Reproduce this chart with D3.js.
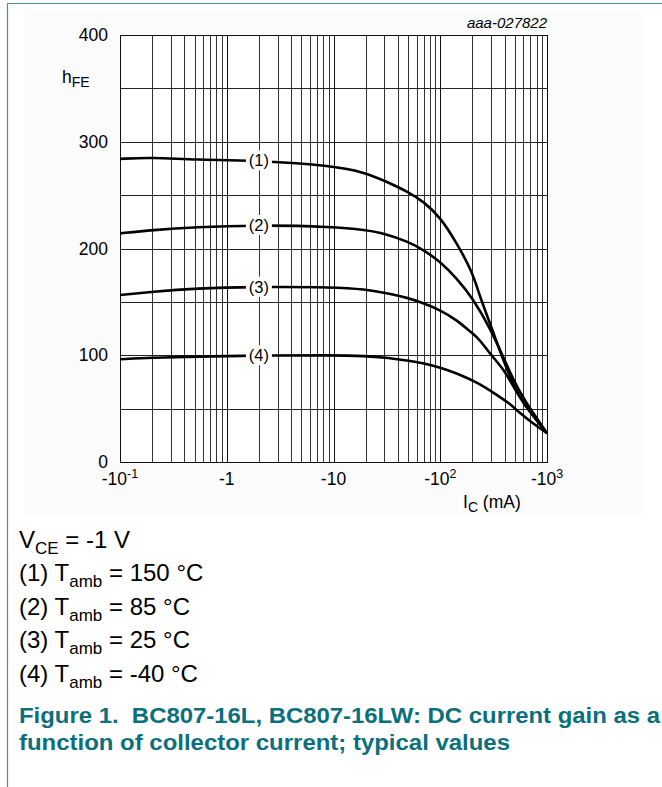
<!DOCTYPE html>
<html>
<head>
<meta charset="utf-8">
<script src="https://cdn.jsdelivr.net/npm/d3@7"></script>
<style>
  body { margin: 0; background: #fff; }
  text { font-family: Arial, "Liberation Sans", Helvetica, sans-serif; }
</style>
</head>
<body>
<script>
// collector current magnitude (mA) and hFE, one array pair per curve
var ic150 = [0.1, 0.2, 0.5, 2, 10, 20, 30, 50, 70, 100, 143, 200, 233, 300, 400, 500, 600, 800, 1000];
var hfe150 = [284, 285.4, 283, 282.5, 277.5, 271, 263.5, 253.2, 243.8, 229.5, 205, 178, 156, 127, 92, 69, 55, 39, 27];

var ic85 = [0.1, 0.2, 0.5, 2, 10, 20, 30, 50, 70, 100, 143, 200, 300, 400, 500, 600, 800, 1000];
var hfe85 = [214.2, 217.3, 220, 222, 220.4, 217.3, 214.2, 206.4, 198.6, 187.6, 172, 154, 123.6, 95.5, 74, 60, 41, 27];

var ic25 = [0.1, 0.2, 0.5, 2, 10, 20, 30, 50, 70, 100, 143, 200, 233, 300, 400, 500, 600, 800, 1000];
var hfe25 = [156.4, 159.5, 162.7, 164.2, 163.8, 161.8, 158.6, 153.8, 148.7, 142.4, 133, 120.5, 114.9, 100, 86, 68, 55.5, 39, 27];

var icm40 = [0.1, 0.2, 0.5, 2, 10, 20, 30, 50, 70, 100, 143, 233, 338, 445, 560, 735, 1000];
var hfem40 = [96.2, 97.7, 98.7, 99.9, 100, 99.3, 98, 94.9, 92.5, 88.7, 83.1, 73.7, 62.8, 55, 45.6, 36.3, 27];

var curveTags = ["(1)", "(2)", "(3)", "(4)"];
var tagCurrent = 2;

var xDecades = [0.1, 1, 10, 100, 1000];
var xTickBase = ["-10", "-1", "-10", "-10", "-10"];
var xTickExp = ["-1", "", "", "2", "3"];
var yTicks = [0, 100, 200, 300, 400];
var yGrid = [50, 100, 150, 200, 250, 300, 350];

var conditionLines = [
  ["V", "CE", " = -1 V"],
  ["(1) T", "amb", " = 150 °C"],
  ["(2) T", "amb", " = 85 °C"],
  ["(3) T", "amb", " = 25 °C"],
  ["(4) T", "amb", " = -40 °C"]
];
var captionLines = [
  "Figure 1.  BC807-16L, BC807-16LW: DC current gain as a",
  "function of collector current; typical values"
];
var captionWidths = [641, 491];

var W = 662, H = 787;
var plot = {left: 120, right: 547, top: 35, bottom: 462};

var svg = d3.select("body").append("svg")
  .attr("width", W)
  .attr("height", H);

// page frame
svg.append("rect")
  .attr("x", 25).attr("y", 13)
  .attr("width", 618).attr("height", 501)
  .attr("fill", "#fbfbfb");
svg.append("path")
  .attr("d", "M7.5," + H + "V3.5H" + W)
  .attr("fill", "none")
  .attr("stroke", "#4d8f98")
  .attr("stroke-width", 1.2);

var x = d3.scaleLog().domain([0.1, 1000]).range([plot.left, plot.right]);
var y = d3.scaleLinear().domain([0, 400]).range([plot.bottom, plot.top]);

svg.append("rect")
  .attr("x", plot.left).attr("y", plot.top)
  .attr("width", plot.right - plot.left).attr("height", plot.bottom - plot.top)
  .attr("fill", "#fff");

var gridG = svg.append("g").attr("shape-rendering", "crispEdges");

// vertical log grid: 2..9 in each decade
var minor = [];
for (var d = 0; d < 4; d++) {
  for (var m = 2; m <= 9; m++) minor.push(xDecades[d] * m);
}
gridG.selectAll("line.minor").data(minor).enter().append("line")
  .attr("class", "minor")
  .attr("x1", function (v) { return Math.round(x(v)) + 0.5; })
  .attr("x2", function (v) { return Math.round(x(v)) + 0.5; })
  .attr("y1", plot.top).attr("y2", plot.bottom)
  .attr("stroke", "#333").attr("stroke-width", 1);

gridG.selectAll("line.major").data(xDecades.slice(1, 4)).enter().append("line")
  .attr("class", "major")
  .attr("x1", function (v) { return Math.round(x(v)) + 0.5; })
  .attr("x2", function (v) { return Math.round(x(v)) + 0.5; })
  .attr("y1", plot.top).attr("y2", plot.bottom)
  .attr("stroke", "#111").attr("stroke-width", 1);

gridG.selectAll("line.h").data(yGrid).enter().append("line")
  .attr("class", "h")
  .attr("x1", plot.left).attr("x2", plot.right)
  .attr("y1", function (v) { return Math.round(y(v)) + 0.5; })
  .attr("y2", function (v) { return Math.round(y(v)) + 0.5; })
  .attr("stroke", "#222").attr("stroke-width", 1);

gridG.append("rect")
  .attr("x", plot.left + 0.5).attr("y", plot.top + 0.5)
  .attr("width", plot.right - plot.left).attr("height", plot.bottom - plot.top)
  .attr("fill", "none")
  .attr("stroke", "#111").attr("stroke-width", 1);

// curves
var series = [
  {ic: ic150, hfe: hfe150},
  {ic: ic85, hfe: hfe85},
  {ic: ic25, hfe: hfe25},
  {ic: icm40, hfe: hfem40}
];

var line = d3.line()
  .x(function (p) { return x(p[0]); })
  .y(function (p) { return y(p[1]); })
  .curve(d3.curveBasis);

var clipId = "plot-clip";
svg.append("defs").append("clipPath").attr("id", clipId)
  .append("rect")
  .attr("x", plot.left).attr("y", plot.top)
  .attr("width", plot.right - plot.left).attr("height", plot.bottom - plot.top);

var curveG = svg.append("g").attr("clip-path", "url(#" + clipId + ")");
curveG.selectAll("path.curve").data(series).enter().append("path")
  .attr("class", "curve")
  .attr("d", function (s) { return line(d3.zip(s.ic, s.hfe)); })
  .attr("fill", "none")
  .attr("stroke", "#000")
  .attr("stroke-width", 2.6)
  .attr("stroke-linejoin", "round");

// curve tags with a white gap behind
function valueAt(s, v) {
  var i = d3.bisectLeft(s.ic, v);
  if (s.ic[i] === v) return s.hfe[i];
  var a = s.ic[i - 1], b = s.ic[i];
  var t = (Math.log(v) - Math.log(a)) / (Math.log(b) - Math.log(a));
  return s.hfe[i - 1] + t * (s.hfe[i] - s.hfe[i - 1]);
}

var tagG = svg.append("g");
series.forEach(function (s, i) {
  var cx = x(tagCurrent), cy = y(valueAt(s, tagCurrent));
  tagG.append("rect")
    .attr("x", cx - 13).attr("y", cy - 10)
    .attr("width", 26).attr("height", 20)
    .attr("fill", "#fff");
  tagG.append("text")
    .attr("x", cx).attr("y", cy + 6)
    .attr("text-anchor", "middle")
    .attr("font-size", 16.5)
    .text(curveTags[i]);
});

// y tick labels
svg.append("g").selectAll("text").data(yTicks).enter().append("text")
  .attr("x", 108)
  .attr("y", function (v) { return y(v) + 6; })
  .attr("text-anchor", "end")
  .attr("font-size", 17.5)
  .text(function (v) { return v; });

// x tick labels
var xt = svg.append("g").selectAll("text").data(xDecades).enter().append("text")
  .attr("x", function (v) { return x(v); })
  .attr("y", 485)
  .attr("text-anchor", "middle")
  .attr("font-size", 17.5);
xt.append("tspan").text(function (v, i) { return xTickBase[i]; });
xt.append("tspan")
  .attr("font-size", 12.5)
  .attr("dy", -7)
  .text(function (v, i) { return xTickExp[i]; });

// axis titles
var yt = svg.append("text").attr("x", 62).attr("y", 83).attr("font-size", 17.5);
yt.append("tspan").text("h");
yt.append("tspan").attr("font-size", 14).attr("dy", 4).text("FE");

var xl = svg.append("text").attr("x", 463).attr("y", 508).attr("font-size", 17.5);
xl.append("tspan").text("I");
xl.append("tspan").attr("font-size", 14).attr("dy", 4).text("C");
xl.append("tspan").attr("dy", -4).text(" (mA)");

svg.append("text")
  .attr("x", 547).attr("y", 28)
  .attr("text-anchor", "end")
  .attr("font-size", 15)
  .attr("font-style", "italic")
  .text("aaa-027822");

// conditions
conditionLines.forEach(function (c, i) {
  var t = svg.append("text")
    .attr("x", 19).attr("y", 548 + i * 33.4)
    .attr("font-size", 24)
    .style("white-space", "pre");
  t.append("tspan").text(c[0]);
  t.append("tspan").attr("font-size", 17).attr("dy", 6).text(c[1]);
  t.append("tspan").attr("dy", -6).text(c[2]);
});

// caption
captionLines.forEach(function (c, i) {
  svg.append("text")
    .attr("x", 19).attr("y", 723 + i * 27.3)
    .attr("font-size", 22.5)
    .attr("font-weight", "bold")
    .attr("fill", "#0b6f7c")
    .attr("textLength", captionWidths[i])
    .attr("lengthAdjust", "spacingAndGlyphs")
    .style("white-space", "pre")
    .text(c);
});
</script>
</body>
</html>
